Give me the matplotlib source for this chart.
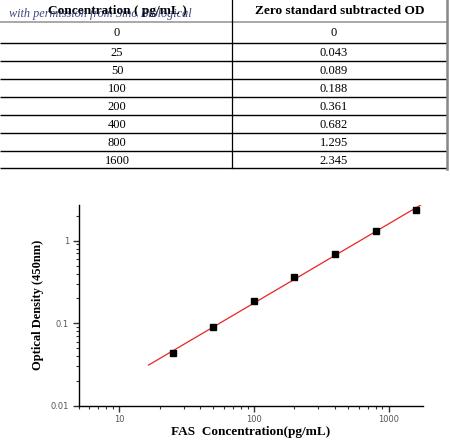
import numpy as np
import matplotlib
matplotlib.use("Agg")
import matplotlib.pyplot as plt
from matplotlib.ticker import LogLocator, FixedFormatter, FixedLocator, NullFormatter

# data from the standard table
conc = [0, 25, 50, 100, 200, 400, 800, 1600]
od = [0, 0.043, 0.089, 0.188, 0.361, 0.682, 1.295, 2.345]
conc_labels = ["0", "25", "50", "100", "200", "400", "800", "1600"]
od_labels = ["0", "0.043", "0.089", "0.188", "0.361", "0.682", "1.295", "2.345"]
headers = ["Concentration ( pg/mL )", "Zero standard subtracted OD"]

W, H = 450, 448
fig = plt.figure(figsize=(W / 100, H / 100), dpi=100)
serif = ["Liberation Serif", "DejaVu Serif"]


def fx(px):
    return px / W


def fy(py):
    return 1 - py / H


# ---- table drawn as lines + text in figure coords
tab = fig.add_axes([0, 0, 1, 1], zorder=0)
tab.set_xlim(0, W)
tab.set_ylim(H, 0)
tab.axis("off")

row_lines = [22, 42.7, 61, 78.7, 96.7, 115, 132.7, 150.7, 168.3]
for i, yy in enumerate(row_lines):
    col = "#999999" if i == 0 else "black"
    tab.plot([0, 447], [yy, yy], color=col, lw=1.0 if i else 1.2, solid_capstyle="butt")
tab.plot([232, 232], [0, 168.3], color="black", lw=0.9)
tab.plot([446.5, 446.5], [0, 169], color="#888888", lw=1.8)

tab.text(117, 11, headers[0], ha="center", va="center", family=serif,
         fontsize=9.6, fontweight="bold")
tab.text(340, 11, headers[1], ha="center", va="center", family=serif,
         fontsize=9.6, fontweight="bold")
tab.text(9, 14, "with permission from Sino Biological", ha="left", va="center",
         family=serif, fontsize=8.8, style="italic", color="#1a2a66", alpha=0.85)

for i in range(len(conc)):
    yc = (row_lines[i] + row_lines[i + 1]) / 2 + 1
    tab.text(117, yc, conc_labels[i], ha="center", va="center", family=serif, fontsize=9)
    tab.text(334, yc, od_labels[i], ha="center", va="center", family=serif, fontsize=9)

# ---- standard curve
left, right, top, bottom = 78.7, 422.7, 205, 405.7
ax = fig.add_axes([fx(left), fy(bottom), fx(right - left), (bottom - top) / H], zorder=1)
ax.patch.set_alpha(0)

x = np.array(conc[1:], dtype=float)
y = np.array(od[1:], dtype=float)
k, b = np.polyfit(np.log10(x), np.log10(y), 1)
xf = np.logspace(np.log10(16.5), np.log10(1780), 50)
ax.plot(xf, 10 ** (k * np.log10(xf) + b), color="#ee2222", lw=0.9)
ax.plot(x, y, "s", color="black", ms=4)

ax.set_xscale("log")
ax.set_yscale("log")
ax.set_xlim(5, 1790)
ax.set_ylim(0.01, 2.71)

for s in ["top", "right"]:
    ax.spines[s].set_visible(False)
for s in ["left", "bottom"]:
    ax.spines[s].set_linewidth(1.0)

ax.xaxis.set_major_locator(FixedLocator([10, 100, 1000]))
ax.xaxis.set_major_formatter(FixedFormatter(["10", "100", "1000"]))
ax.xaxis.set_minor_locator(LogLocator(base=10, subs=np.arange(2, 10)))
ax.xaxis.set_minor_formatter(NullFormatter())
ax.yaxis.set_major_locator(FixedLocator([0.01, 0.1, 1]))
ax.yaxis.set_major_formatter(FixedFormatter(["0.01", "0.1", "1"]))
ax.yaxis.set_minor_locator(LogLocator(base=10, subs=np.arange(2, 10)))
ax.yaxis.set_minor_formatter(NullFormatter())

ax.tick_params(which="major", direction="out", length=4, width=1.0, color="#333333",
               labelsize=6, labelcolor="#555555", pad=3)
ax.tick_params(which="minor", direction="out", length=2, width=0.8, color="#333333")

ax.set_xlabel("FAS  Concentration(pg/mL)", family=serif, fontsize=9.5,
              fontweight="bold", labelpad=1)
ax.set_ylabel("Optical Density (450nm)", family=serif, fontsize=9,
              fontweight="bold", labelpad=5)

fig.savefig("out.png", dpi=100)
